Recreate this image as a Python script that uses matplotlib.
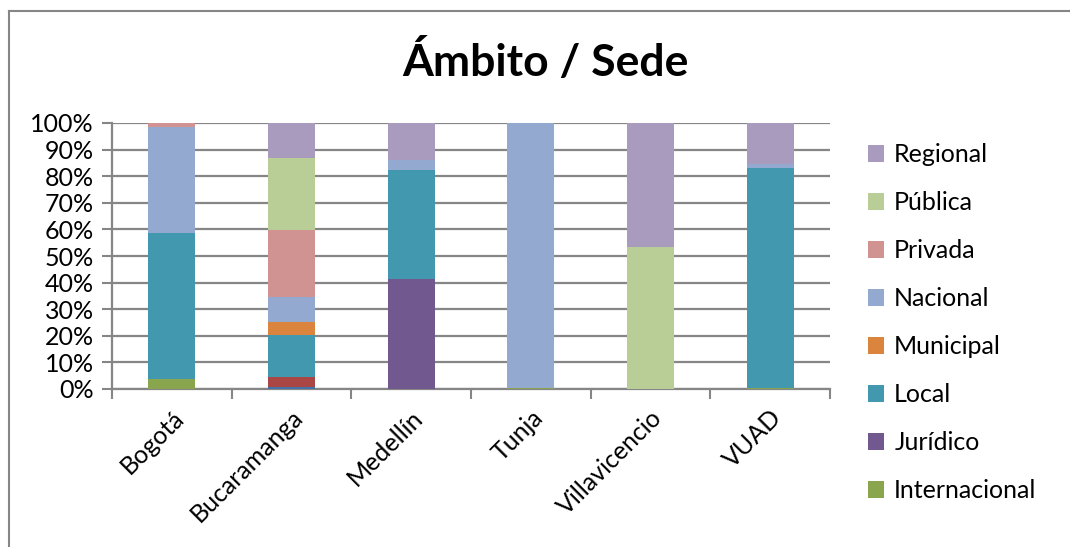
import matplotlib
matplotlib.use('Agg')
import matplotlib.pyplot as plt
from matplotlib.lines import Line2D
from matplotlib.patches import Patch
import numpy as np

plt.rcParams['font.family'] = ['Lato', 'DejaVu Sans']

sedes = ['Bogotá', 'Bucaramanga', 'Medellín', 'Tunja', 'Villavicencio', 'VUAD']

# series de abajo hacia arriba (porcentajes)
serie1 = [0.0, 0.9, 0.0, 0.0, 0.0, 0.0]
serie2 = [0.0, 3.6, 0.0, 0.0, 0.0, 0.0]
internacional = [3.6, 0.0, 0.0, 0.5, 0.0, 0.4]
juridico = [0.0, 0.0, 41.2, 0.0, 0.0, 0.0]
local = [55.0, 15.8, 41.1, 0.0, 0.0, 82.8]
municipal = [0.0, 4.9, 0.0, 0.0, 0.0, 0.0]
nacional = [39.8, 9.3, 3.7, 99.5, 0.0, 1.4]
privada = [1.6, 25.3, 0.0, 0.0, 0.0, 0.0]
publica = [0.0, 27.0, 0.0, 0.0, 53.3, 0.0]
regional = [0.0, 13.2, 14.0, 0.0, 46.7, 15.4]

series = [
    (None, serie1, '#4572A7'),
    (None, serie2, '#AA4643'),
    ('Internacional', internacional, '#89A54E'),
    ('Jurídico', juridico, '#71588F'),
    ('Local', local, '#4198AF'),
    ('Municipal', municipal, '#DB843D'),
    ('Nacional', nacional, '#93A9CF'),
    ('Privada', privada, '#D19392'),
    ('Pública', publica, '#B9CD96'),
    ('Regional', regional, '#A99BBD'),
]

W, H = 1070, 547
fig = plt.figure(figsize=(W / 100, H / 100), dpi=100)
ax = fig.add_axes([112 / W, 1 - 389 / H, (830 - 112) / W, (389 - 123) / H])

x = np.arange(len(sedes))
bottom = np.zeros(len(sedes))
for name, vals, col in series:
    v = np.array(vals) / 100
    ax.bar(x, v, 0.39, bottom=bottom, color=col, edgecolor='none', zorder=3)
    bottom += v

ax.set_xlim(-0.5, len(sedes) - 0.5)
ax.set_ylim(0, 1)
ax.set_yticks(np.arange(0, 1.01, 0.1))
ax.set_yticklabels([f'{int(round(t * 100))}%' for t in np.arange(0, 1.01, 0.1)], fontsize=18)
ax.yaxis.grid(True, color='#868686', linewidth=1.6, zorder=0)
ax.set_xticks(x)
ax.set_xticklabels(sedes, rotation=45, ha='right', rotation_mode='anchor', fontsize=18)
ax.set_xticks(np.arange(-0.5, len(sedes)), minor=True)
ax.tick_params(axis='x', which='major', length=0, pad=12)
ax.tick_params(axis='x', which='minor', length=7, color='#868686', width=1.5)
ax.tick_params(axis='y', length=7, color='#868686', width=1.5, pad=6)

for s in ['top', 'right']:
    ax.spines[s].set_visible(False)
for s in ['left', 'bottom']:
    ax.spines[s].set_color('#868686')
    ax.spines[s].set_linewidth(1.6)

fig.text(545 / W, 1 - 62 / H, 'Ámbito / Sede', ha='center', va='center',
         fontsize=32, fontweight='bold')

# leyenda (orden inverso, solo series con nombre)
handles = [Patch(facecolor=col, label=name) for name, vals, col in series[::-1] if name]
fig.legend(handles=handles, loc='upper left', bbox_to_anchor=(868 / W, 1 - 143 / H),
           frameon=False, fontsize=18, handlelength=0.65, handleheight=0.65,
           handletextpad=0.4, labelspacing=1.0, borderaxespad=0, borderpad=0)

# borde del área del gráfico
fig.add_artist(Line2D([9 / W, 1], [1 - 11 / H, 1 - 11 / H], color='#868686', linewidth=1.5))
fig.add_artist(Line2D([9 / W, 9 / W], [0, 1 - 11 / H], color='#868686', linewidth=1.5))

fig.savefig('out.png', dpi=100)
